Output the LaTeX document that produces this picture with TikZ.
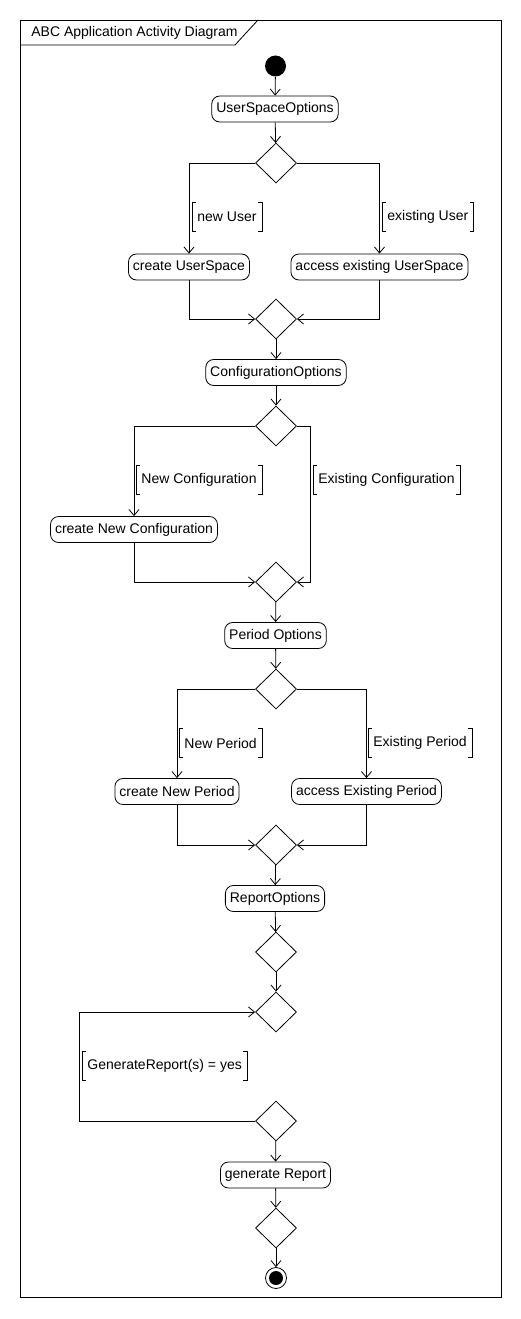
\documentclass[tikz,border=0pt]{standalone}
\usepackage{fontspec}
\setmainfont{Liberation Sans}
\usetikzlibrary{shapes.geometric,arrows.meta}
\def\guardbrackets#1{%
  \draw ([xshift=4pt]#1.north west) -| (#1.south west) -- ++(4pt,0);
  \draw ([xshift=-4pt]#1.north east) -| (#1.south east) -- ++(-4pt,0);}

\begin{document}
\begin{tikzpicture}[x=1pt,y=-1pt,
    font=\fontsize{14}{16}\selectfont,
    line width=0.8pt,
    action/.style={draw,rounded corners=8pt,minimum height=26pt,inner xsep=4.5pt,inner ysep=0pt},
    decision/.style={draw,diamond,minimum width=41pt,minimum height=40pt,inner sep=0pt},
    guard/.style={anchor=west,minimum height=28pt,inner xsep=5pt,inner ysep=0pt},
    flow/.style={-{Straight Barb[length=6pt,width=10pt]}}]
  \useasboundingbox (0,0) rectangle (521,1319);
  % frame
  \draw (20,20) rectangle (501,1297);
  \draw (20,45) -- (235,45) -- (258,20);
  \node[anchor=west,inner sep=0pt] (title) at (31,33) {ABC Application Activity Diagram};

  \node[circle,fill,minimum size=21pt,inner sep=0pt] (start) at (275.5,66) {};
  \node[action] (uso) at (275,109) {UserSpaceOptions};
  \node[decision] (d1) at (276,163) {};
  \node[action] (cus) at (189,267) {create UserSpace};
  \node[action] (aeus) at (379.5,267) {access existing UserSpace};
  \node[decision] (m1) at (276,319) {};
  \node[action] (co) at (276,372.5) {ConfigurationOptions};
  \node[decision] (d2) at (276,426) {};
  \node[action] (cnc) at (134,529.5) {create New Configuration};
  \node[decision] (m2) at (276,582) {};
  \node[action] (po) at (275.5,635.5) {Period Options};
  \node[decision] (d3) at (276,689) {};
  \node[action] (cnp) at (177,791.5) {create New Period};
  \node[action] (aep) at (366.5,791.5) {access Existing Period};
  \node[decision] (m3) at (276,845) {};
  \node[action] (ro) at (275,898.5) {ReportOptions};
  \node[decision] (d4) at (276,952) {};
  \node[decision] (d5) at (276,1012) {};
  \node[decision] (d6) at (276,1121) {};
  \node[action] (gr) at (275.5,1175) {generate Report};
  \node[decision] (d7) at (276,1228) {};
  \node[circle,draw,minimum size=21pt,inner sep=0pt] (stop) at (276,1278) {};
  \fill (stop) circle (7pt);

  % guards
  \node[guard] (gnu) at (192,217) {new User};
  \node[guard] (geu) at (382,217) {existing User};
  \node[guard] (gnc) at (136,480) {New Configuration};
  \node[guard] (gec) at (313,480) {Existing Configuration};
  \node[guard] (gnp) at (179,743) {New Period};
  \node[guard] (gep) at (368,743) {Existing Period};
  \node[guard] (ggr) at (82,1066) {GenerateReport(s) = yes};
  \guardbrackets{gnu} \guardbrackets{geu}
  \guardbrackets{gnc} \guardbrackets{gec}
  \guardbrackets{gnp} \guardbrackets{gep}
  \guardbrackets{ggr}

  \coordinate (cfgbend) at (310,426);
  \coordinate (loop) at (79,1121);

  % flows
  \draw[flow] (start) -- (uso);
  \draw[flow] (uso) -- (d1);
  \draw[flow] (d1.west) -| (cus.north);
  \draw[flow] (d1.east) -| (aeus.north);
  \draw[flow] (cus.south) |- (m1.west);
  \draw[flow] (aeus.south) |- (m1.east);
  \draw[flow] (m1) -- (co);
  \draw[flow] (co) -- (d2);
  \draw[flow] (d2.west) -| (cnc.north);
  \draw[flow] (d2.east) -- (cfgbend) |- (m2.east);
  \draw[flow] (cnc.south) |- (m2.west);
  \draw[flow] (m2) -- (po);
  \draw[flow] (po) -- (d3);
  \draw[flow] (d3.west) -| (cnp.north);
  \draw[flow] (d3.east) -| (aep.north);
  \draw[flow] (cnp.south) |- (m3.west);
  \draw[flow] (aep.south) |- (m3.east);
  \draw[flow] (m3) -- (ro);
  \draw[flow] (ro) -- (d4);
  \draw[flow] (d4) -- (d5);
  \draw[flow] (d6.west) -- (loop) |- (d5.west);
  \draw[flow] (d6) -- (gr);
  \draw[flow] (gr) -- (d7);
  \draw[flow] (d7) -- (stop);
\end{tikzpicture}
\end{document}
